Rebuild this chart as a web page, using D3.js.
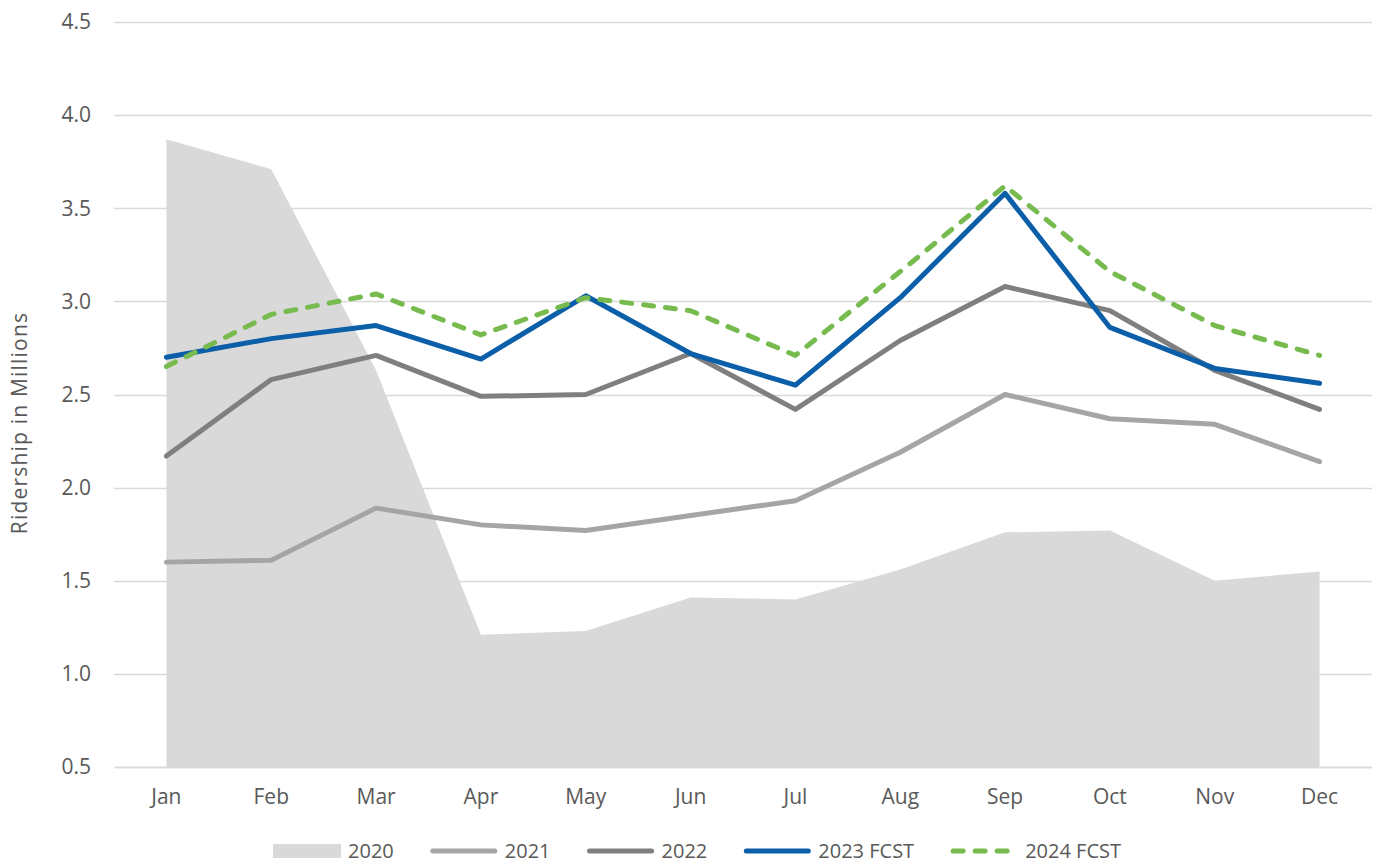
<!DOCTYPE html>
<html>
<head>
<meta charset="utf-8">
<script src="https://cdn.jsdelivr.net/npm/d3@7"></script>
<style>
  body { margin: 0; background: #fff; }
  svg text { font-family: 'Open Sans', sans-serif; fill: #595959; }
</style>
</head>
<body>
<svg id="chart" width="1374" height="863"></svg>
<script>
const months = ['Jan', 'Feb', 'Mar', 'Apr', 'May', 'Jun', 'Jul', 'Aug', 'Sep', 'Oct', 'Nov', 'Dec'];
const yTicks = [0.5, 1.0, 1.5, 2.0, 2.5, 3.0, 3.5, 4.0, 4.5];

const r2020 = [3.87, 3.71, 2.63, 1.21, 1.23, 1.41, 1.40, 1.56, 1.76, 1.77, 1.50, 1.55];
const r2021 = [1.60, 1.61, 1.89, 1.80, 1.77, 1.85, 1.93, 2.19, 2.50, 2.37, 2.34, 2.14];
const r2022 = [2.17, 2.58, 2.71, 2.49, 2.50, 2.72, 2.42, 2.79, 3.08, 2.95, 2.63, 2.42];
const r2023 = [2.70, 2.80, 2.87, 2.69, 3.03, 2.72, 2.55, 3.02, 3.58, 2.86, 2.64, 2.56];
const r2024 = [2.65, 2.93, 3.04, 2.82, 3.02, 2.95, 2.71, 3.16, 3.62, 3.16, 2.87, 2.71];

const seriesNames = ['2020', '2021', '2022', '2023 FCST', '2024 FCST'];

const margin = { top: 22, left: 114, right: 2, bottom: 96 };
const width = 1374;
const height = 863;
const fontSize = '21px';

const svg = d3.select('#chart');

const x = d3.scaleBand()
  .domain(months)
  .range([margin.left, width - margin.right]);

const y = d3.scaleLinear()
  .domain([0.5, 4.5])
  .range([height - margin.bottom, margin.top]);

const cx = (m) => x(m) + x.bandwidth() / 2;

// gridlines
svg.append('g')
  .selectAll('line')
  .data(yTicks)
  .join('line')
  .attr('x1', margin.left)
  .attr('x2', width - margin.right)
  .attr('y1', (d) => Math.round(y(d)) + 0.5)
  .attr('y2', (d) => Math.round(y(d)) + 0.5)
  .attr('stroke', '#d9d9d9')
  .attr('stroke-width', 1.3);

// 2020 area
const area = d3.area()
  .x((d, i) => cx(months[i]))
  .y0(y(0.5))
  .y1((d) => y(d));

svg.append('path')
  .datum(r2020)
  .attr('d', area)
  .attr('fill', '#d9d9d9');

// bottom axis line over area
svg.append('line')
  .attr('x1', margin.left)
  .attr('x2', width - margin.right)
  .attr('y1', Math.round(y(0.5)) + 0.5)
  .attr('y2', Math.round(y(0.5)) + 0.5)
  .attr('stroke', '#d9d9d9')
  .attr('stroke-width', 1.3);

const line = d3.line()
  .x((d, i) => cx(months[i]))
  .y((d) => y(d));

const lineStyles = [
  { data: r2021, color: '#a5a5a5', dash: null },
  { data: r2022, color: '#7f7f7f', dash: null },
  { data: r2023, color: '#0b5ea8', dash: null },
  { data: r2024, color: '#77bb4f', dash: '10,12' },
];

lineStyles.forEach((s) => {
  svg.append('path')
    .datum(s.data)
    .attr('d', line)
    .attr('fill', 'none')
    .attr('stroke', s.color)
    .attr('stroke-width', 5)
    .attr('stroke-linejoin', 'round')
    .attr('stroke-linecap', 'round')
    .attr('stroke-dasharray', s.dash);
});

// y tick labels
svg.append('g')
  .selectAll('text')
  .data(yTicks)
  .join('text')
  .attr('x', 91)
  .attr('y', (d) => y(d))
  .attr('dy', '0.35em')
  .attr('text-anchor', 'end')
  .style('font-size', fontSize)
  .text((d) => d.toFixed(1));

// x tick labels
svg.append('g')
  .selectAll('text')
  .data(months)
  .join('text')
  .attr('x', (d) => cx(d))
  .attr('y', 797)
  .attr('dy', '0.35em')
  .attr('text-anchor', 'middle')
  .style('font-size', fontSize)
  .text((d) => d);

// y axis title
svg.append('text')
  .attr('transform', 'translate(27, 423) rotate(-90)')
  .attr('text-anchor', 'middle')
  .style('font-size', fontSize)
  .style('letter-spacing', '1.2px')
  .text('Ridership in Millions');

// legend
const legendColors = ['#d9d9d9', '#a5a5a5', '#7f7f7f', '#0b5ea8', '#77bb4f'];
const legend = svg.append('g');
const symW = 68;
const pad = 7;
const gap = 36;
const items = seriesNames.map((name, i) => {
  const g = legend.append('g');
  if (i === 0) {
    g.append('rect')
      .attr('x', 0).attr('y', -7)
      .attr('width', symW).attr('height', 14)
      .attr('fill', legendColors[i]);
  }
  else {
    g.append('line')
      .attr('x1', 3).attr('x2', symW - 3)
      .attr('y1', 0).attr('y2', 0)
      .attr('stroke', legendColors[i])
      .attr('stroke-width', 5)
      .attr('stroke-linecap', 'round')
      .attr('stroke-dasharray', i === 4 ? '10,12' : null);
  }
  const t = g.append('text')
    .attr('x', symW + pad)
    .attr('dy', '0.35em')
    .style('font-size', '20px')
    .text(name);
  return { g, w: symW + pad + t.node().getComputedTextLength() };
});
const total = d3.sum(items, (d) => d.w) + gap * (items.length - 1);
let lx = 697 - total / 2;
items.forEach((it) => {
  it.g.attr('transform', `translate(${lx}, 851)`);
  lx += it.w + gap;
});
</script>
</body>
</html>
